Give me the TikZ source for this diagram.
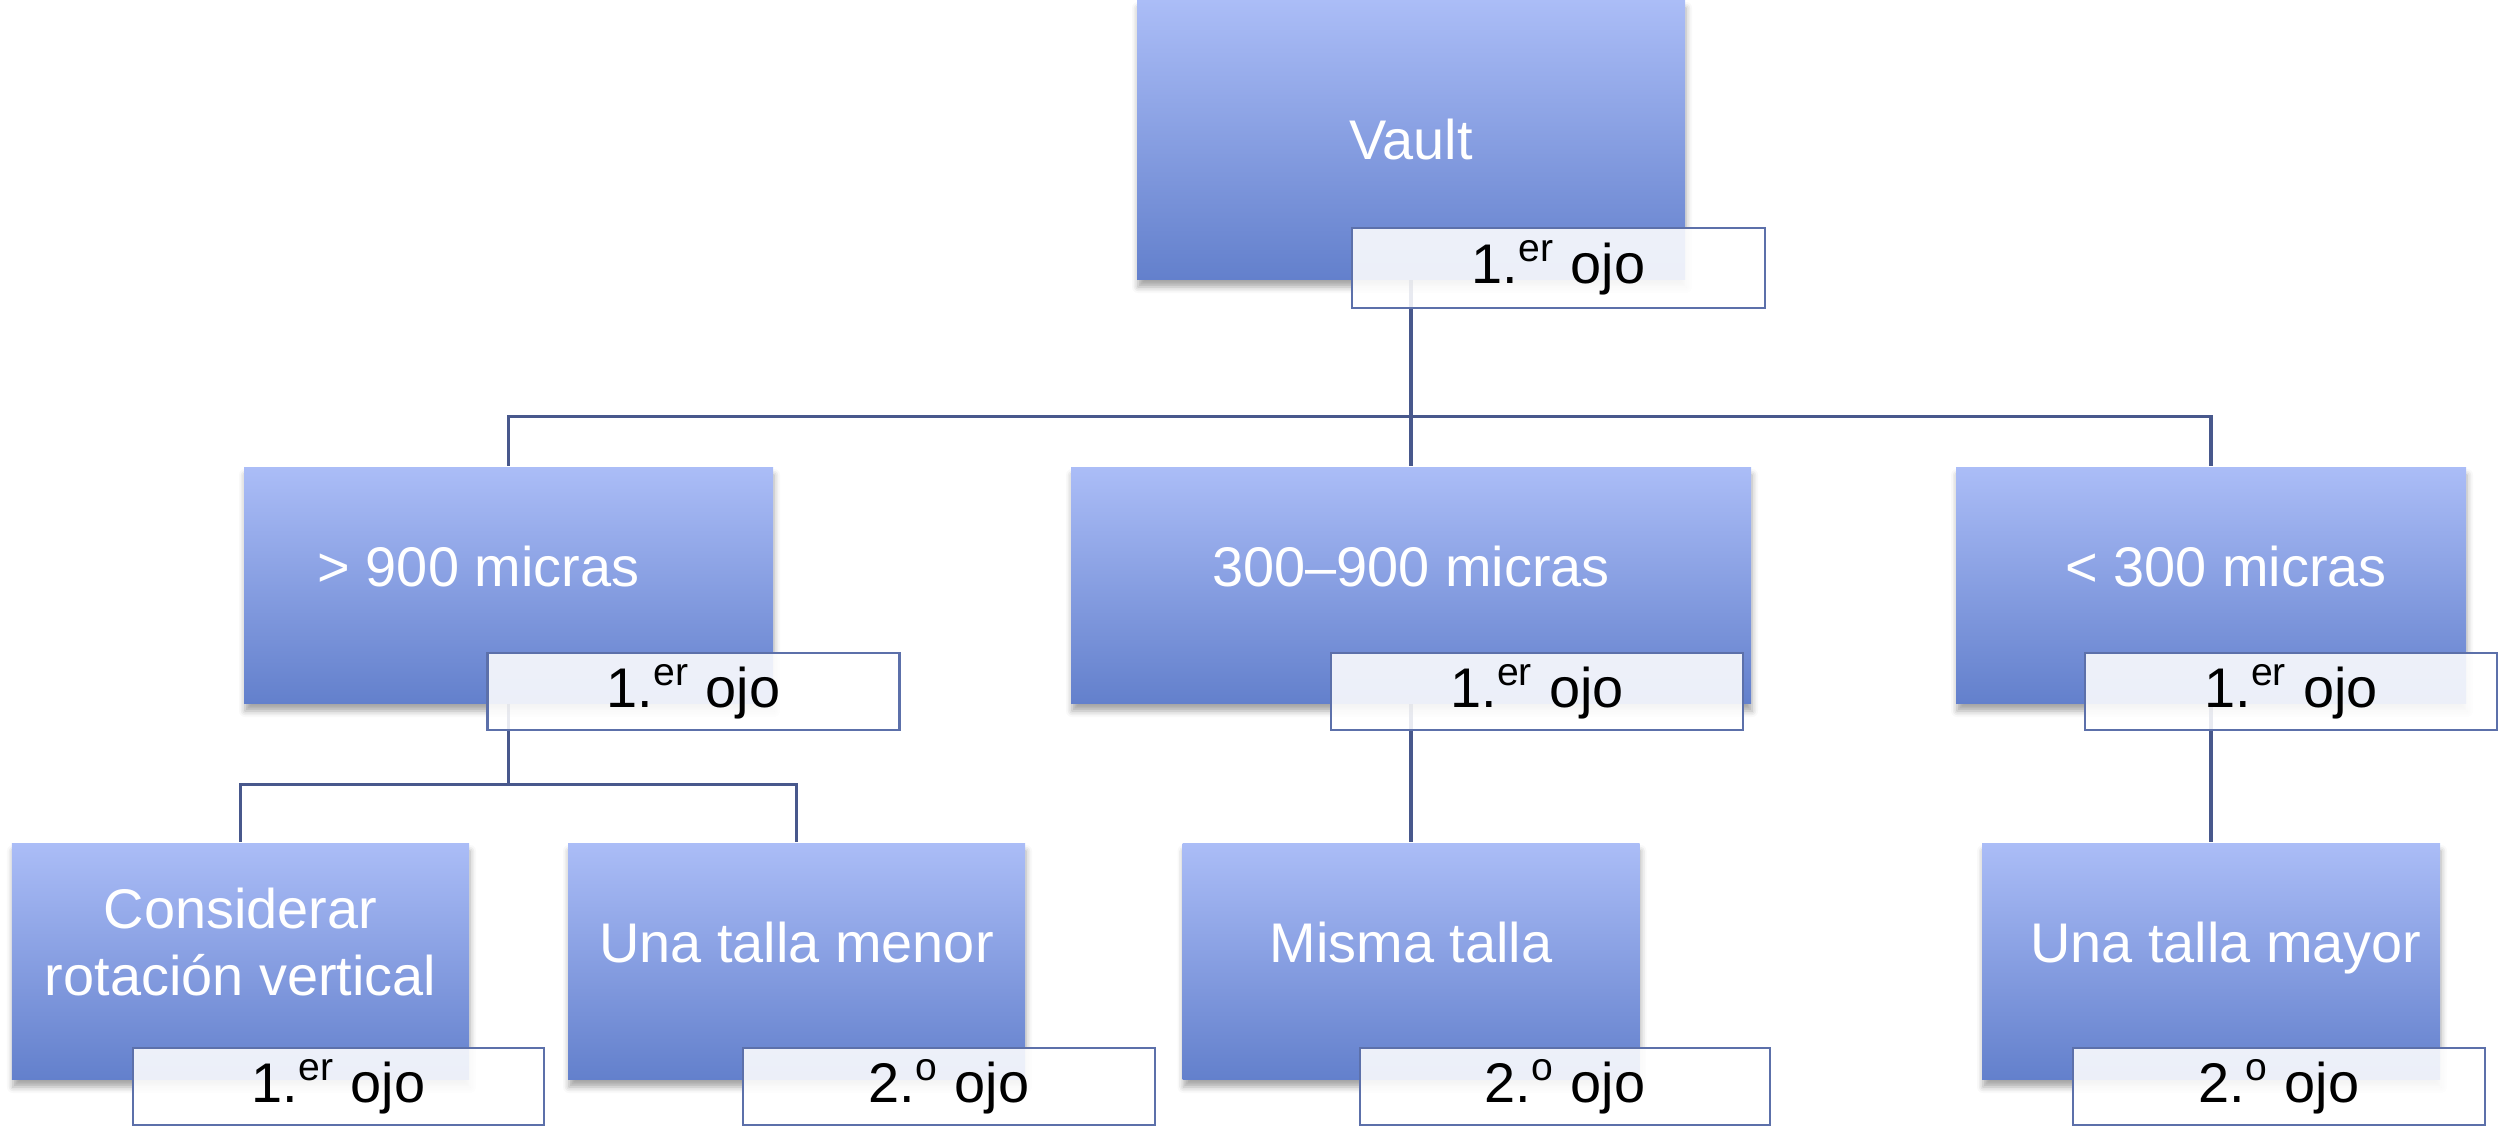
\documentclass[tikz,border=0pt]{standalone}
\usepackage{fontspec}
\setmainfont{Liberation Sans}
\usetikzlibrary{shadows.blur,backgrounds}

\definecolor{boxtop}{RGB}{171,189,247}
\definecolor{boxbot}{RGB}{99,128,204}
\definecolor{tagline}{RGB}{92,112,170}
\definecolor{linkcol}{RGB}{72,88,140}

\begin{document}
\begin{tikzpicture}[box/.style={rectangle, top color=boxtop, bottom color=boxbot, text=white, align=center, inner sep=0pt, minimum height=2.36cm, font=\fontsize{15.9}{19}\selectfont, blur shadow={shadow xshift=0.1mm, shadow yshift=-0.8mm, shadow blur radius=0.6mm, shadow opacity=35}}, lifted/.style={text depth=0.38cm}, tag/.style={rectangle, draw=tagline, line width=0.7pt, fill=white, fill opacity=0.88, text opacity=1, text=black, inner sep=0pt, minimum width=4.12cm, minimum height=0.77cm, font=\fontsize{15.9}{19}\selectfont}, link/.style={draw=linkcol, line width=1pt}]

    \useasboundingbox (0,0) rectangle (25,-11.29);

    % top
    \node[box, minimum width=5.48cm, minimum height=2.79cm] (vault) at (14.11,-1.395) {Vault};
    \node[tag, minimum width=4.13cm, minimum height=0.80cm] (vaulttag) at (15.585,-2.68) {1.\textsuperscript{er} ojo};

    % thickness
    \node[box, lifted, minimum width=5.29cm] (big) at (5.085,-5.85) {> 900 micras\hspace{0.6cm}};
    \node[tag] (bigtag) at (6.935,-6.915) {1.\textsuperscript{er} ojo};
    \node[box, lifted, minimum width=6.80cm] (medium) at (14.11,-5.85) {300--900 micras};
    \node[tag] (mediumtag) at (15.37,-6.915) {1.\textsuperscript{er} ojo};
    \node[box, lifted, minimum width=5.10cm] (small) at (22.11,-5.85) {\hspace{0.3cm}< 300 micras};
    \node[tag] (smalltag) at (22.91,-6.915) {1.\textsuperscript{er} ojo};

    % size
    \node[box, lifted, minimum width=4.57cm] (rotate) at (2.405,-9.61) {Considerar\\rotación vertical};
    \node[tag, minimum width=4.11cm] (rotatetag) at (3.385,-10.865) {1.\textsuperscript{er} ojo};
    \node[box, lifted, minimum width=4.57cm] (smaller) at (7.965,-9.61) {Una talla menor};
    \node[tag] (smallertag) at (9.49,-10.865) {2.\textsuperscript{o} ojo};
    \node[box, lifted, minimum width=4.57cm] (same) at (14.11,-9.61) {Misma talla};
    \node[tag, minimum width=4.10cm] (sametag) at (15.65,-10.865) {2.\textsuperscript{o} ojo};
    \node[box, lifted, minimum width=4.58cm] (larger) at (22.11,-9.61) {\hspace{0.3cm}Una talla mayor};
    \node[tag] (largertag) at (22.79,-10.865) {2.\textsuperscript{o} ojo};

    \begin{scope}[on background layer]
      \coordinate (hub1) at ([yshift=-1.37cm]vault.south);
      \coordinate (hub2) at ([yshift=-0.81cm]big.south);
      \draw[link] (vault.south) -- (hub1);
      \draw[link] (hub1) -| (big.north);
      \draw[link] (hub1) -- (medium.north);
      \draw[link] (hub1) -| (small.north);
      \draw[link] (big.south) -- (hub2);
      \draw[link] (hub2) -| (rotate.north);
      \draw[link] (hub2) -| (smaller.north);
      \draw[link] (medium.south) -- (same.north);
      \draw[link] (small.south) -- (larger.north);
    \end{scope}
  \end{tikzpicture}
\end{document}
